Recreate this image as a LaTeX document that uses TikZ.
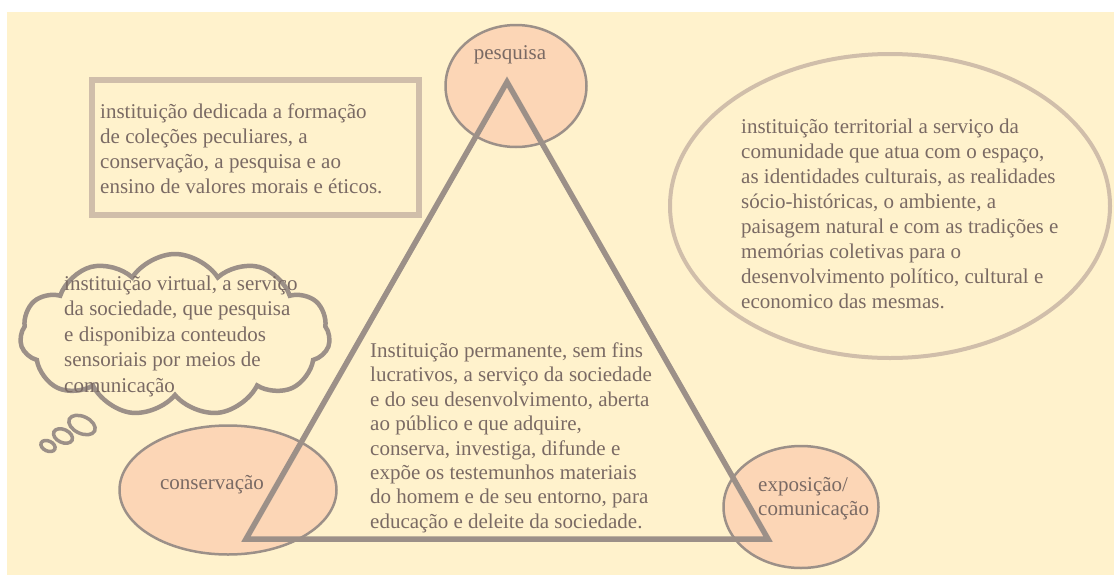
\documentclass[tikz,border=0pt]{standalone}
\usepackage{fontspec}
\setmainfont{Liberation Serif}
\usetikzlibrary{shapes.geometric,shapes.symbols,positioning}
\definecolor{crema}{RGB}{255,242,204}
\definecolor{durazno}{RGB}{252,214,182}
\definecolor{gris}{RGB}{156,144,136}
\definecolor{tostado}{RGB}{208,190,170}
\definecolor{letra}{RGB}{122,106,100}

\begin{document}
\begin{tikzpicture}[x=1pt,y=-1pt,
	elipse/.style={ellipse,draw=gris,fill=durazno,line width=2.5pt,inner sep=0pt},
	burbuja/.style={ellipse,draw=gris,line width=3.5pt,inner sep=0pt,rotate=-25},
	texto/.style={text=letra,font=\fontsize{21}{25}\selectfont,align=left,inner sep=0pt,anchor=north west},
	etiqueta/.style={text=letra,font=\fontsize{21}{24}\selectfont,align=left,inner sep=0pt}]
			\useasboundingbox (0,0) rectangle (1114,579);
			\fill[crema] (7,12) rectangle (1114,575);

			% Caja y elipse grande
			\node[draw=tostado,line width=6pt,minimum width=327,minimum height=135,anchor=north west] (caja) at (89,77) {};
			\node[texto] (tcaja) at (100,103.5) {instituição dedicada a formação\\de coleções peculiares, a\\conservação, a pesquisa e ao\\ensino de valores morais e éticos.};

			\node[ellipse,draw=tostado,line width=4pt,minimum width=440,minimum height=304] (terr) at (890,206) {};
			\node[texto] (tterr) at (741,118.5) {instituição territorial a serviço da\\comunidade que atua com o espaço,\\as identidades culturais, as realidades\\sócio-históricas, o ambiente, a\\paisagem natural e com as tradições e\\memórias coletivas para o\\desenvolvimento político, cultural e\\economico das mesmas.};

			% Nuvem
			\node[cloud,cloud puffs=11,cloud puff arc=115,draw=gris,line width=4.5pt,minimum width=310,minimum height=162] (nuvem) at (175,335) {};
			\node[burbuja,minimum width=28,minimum height=17] (b1) at (82,425) {};
			\node[burbuja,minimum width=20,minimum height=13] (b2) at (63,436) {};
			\node[burbuja,minimum width=15,minimum height=10] (b3) at (48,446) {};
			\node[texto,font=\fontsize{21}{25.5}\selectfont] (tnuvem) at (64,275.5) {instituição virtual, a serviço\\da sociedade, que pesquisa\\e disponibiza conteudos\\sensoriais por meios de\\comunicação};

			% Vertices
			\node[elipse,minimum width=141,minimum height=122] (pesq) at (516,86) {};
			\node[etiqueta] at (510,55) {pesquisa};
			\node[elipse,minimum width=217,minimum height=129] (cons) at (228,490) {};
			\node[etiqueta] at (212,485) {conservação};
			\node[elipse,minimum width=155,minimum height=122] (expo) at (801,507) {};
			\node[etiqueta,anchor=west] at (758,499) {exposição/\\comunicação};

			% Triangulo
			\coordinate (apex) at (507,82);
			\coordinate (bl) at (246,539);
			\coordinate (br) at (768,539);
			\draw[gris,line width=5.5pt,line join=miter] (apex) -- (br) -- (bl) -- cycle;

			\node[texto,font=\fontsize{21}{24.4}\selectfont] (tcentro) at (370,342.5) {Instituição permanente, sem fins\\lucrativos, a serviço da sociedade\\e do seu desenvolvimento, aberta\\ao público e que adquire,\\conserva, investiga, difunde e\\expõe os testemunhos materiais\\do homem e de seu entorno, para\\educação e deleite da sociedade.};
		    \end{tikzpicture}
\end{document}
